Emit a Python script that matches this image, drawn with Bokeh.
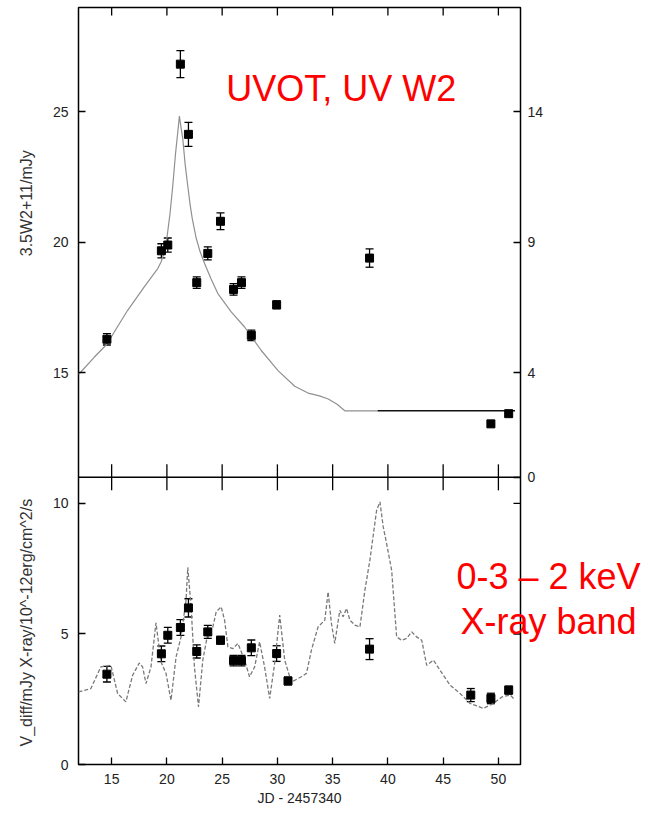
import math
from bokeh.plotting import figure
from bokeh.models import (ColumnDataSource, LinearAxis, FixedTicker, Whisker,
                          TeeHead, Span)
from bokeh.core.properties import value
from bokeh.embed import file_html
from bokeh.resources import INLINE

# ---------------- data ----------------
X_RANGE = (12, 52)
Y_RANGE = (0, 29)
X_TICKS = [15, 20, 25, 30, 35, 40, 45, 50]
LEFT_TICKS = [0, 5, 10, 15, 20, 25]
RIGHT_TICKS = [11, 15, 20, 25]
RIGHT_TICK_LABELS = ["0", "4", "9", "14"]
RIGHT_MINOR_PANEL_TICKS = [5, 10]   # unlabelled right ticks of the lower panel

# UVOT UV W2 (3.5*W2 + 11, mJy)
uv_jd = [14.57, 19.5, 20.08, 21.22, 21.95, 22.7, 23.7, 24.85, 26.03, 26.75,
         27.64, 29.93, 38.34, 49.32, 50.93]
uv_flux = [16.29, 19.68, 19.9, 26.83, 24.14, 18.46, 19.58, 20.81, 18.2, 18.46,
           16.44, 17.61, 19.4, 13.05, 13.44]
uv_err = [0.22, 0.27, 0.27, 0.52, 0.46, 0.22, 0.25, 0.32, 0.22, 0.22,
          0.2, 0.15, 0.35, 0.0, 0.1]

uv_model_jd = [12.0, 13.42, 14.57, 15.5, 16.45, 17.95, 19.17, 19.47, 19.75,
               20.0, 20.28, 20.53, 20.78, 20.98, 21.13, 21.28, 21.44, 21.65,
               21.89, 22.1, 22.3, 22.64, 23.0, 23.4, 24.0, 24.6, 25.8, 27.03,
               28.54, 30.06, 31.57, 32.78, 33.8, 34.6, 35.4, 36.1, 39.07]
uv_model_flux = [14.94, 15.6, 16.1, 16.75, 17.4, 18.3, 19.0, 19.25, 19.6,
                 20.17, 21.1, 22.16, 23.4, 24.2, 24.84, 24.4, 23.96, 23.0,
                 22.16, 21.45, 20.9, 20.18, 19.65, 19.2, 18.6, 18.05, 17.35,
                 16.76, 15.86, 15.09, 14.49, 14.23, 14.12, 14.0, 13.8, 13.55,
                 13.55]
uv_tail_jd = [39.07, 51.5]
uv_tail_flux = [13.55, 13.55]

# V_diff / X-ray (0.3-2 keV)
xr_jd = [14.57, 19.5, 20.08, 21.22, 21.95, 22.7, 23.7, 24.85, 26.03, 26.75,
         27.64, 29.93, 30.96, 38.34, 47.5, 49.32, 50.93]
xr_flux = [3.46, 4.24, 4.95, 5.25, 6.0, 4.33, 5.08, 4.76, 3.98, 3.98,
           4.47, 4.25, 3.2, 4.42, 2.66, 2.53, 2.85]
xr_err = [0.3, 0.3, 0.3, 0.3, 0.35, 0.25, 0.25, 0.15, 0.2, 0.2,
          0.3, 0.3, 0.15, 0.4, 0.25, 0.2, 0.15]

xr_model_jd = [12.0, 13.12, 14.02, 14.93, 15.54, 16.29, 16.59, 16.9, 17.5,
               17.8, 18.11, 18.56, 19.01, 19.47, 19.92, 20.37, 20.83, 21.28,
               21.73, 21.89, 22.19, 22.49, 22.86, 23.25, 23.7, 24.16, 24.46,
               24.91, 25.22, 25.52, 25.97, 26.43, 27.03, 27.48, 27.94, 28.39,
               28.84, 29.3, 29.75, 30.21, 30.66, 31.26, 32.17, 32.63, 33.08,
               33.68, 34.29, 34.59, 34.89, 35.19, 35.65, 35.95, 36.26, 36.56,
               37.01, 37.47, 37.92, 38.37, 38.98, 39.28, 39.58, 39.88, 40.34,
               40.79, 41.24, 41.7, 42.15, 42.6, 43.06, 43.51, 44.12, 44.72,
               45.63, 46.53, 47.44, 48.65, 49.56, 50.32, 51.07, 51.37]
xr_model_flux = [2.78, 2.91, 3.74, 3.8, 2.72, 2.4, 2.91, 3.42, 3.89,
                 3.74, 3.1, 3.74, 5.43, 3.93, 3.49, 2.46, 4.12, 4.89,
                 6.29, 7.55, 6.04, 3.74, 2.21, 4.0, 5.02, 5.27, 5.85,
                 6.04, 5.53, 4.51, 4.44, 4.64, 4.0, 3.36, 3.74, 4.7,
                 3.74, 2.53, 3.87, 5.72, 4.0, 3.16, 3.36, 3.49, 4.38,
                 5.27, 5.53, 6.61, 5.4, 4.64, 5.91, 5.66, 5.98, 5.53,
                 5.34, 5.27, 6.68, 7.83, 9.74, 10.06, 9.1, 8.47, 7.44,
                 4.89, 4.76, 4.83, 5.08, 4.89, 4.76, 3.8, 4.0, 3.61,
                 3.04, 2.72, 2.34, 2.15, 2.34, 2.59, 2.66, 2.53]

PANEL_BORDER = 11  # upper panel starts at 11 on the shared y scale

FONT = "Liberation Sans"
TXT = "#222222"

# ---------------- figure ----------------
FRAME_W, FRAME_H = 442, 757
p = figure(frame_width=FRAME_W, frame_height=FRAME_H,
           x_range=X_RANGE, y_range=Y_RANGE,
           output_backend="svg", toolbar_location=None,
           x_axis_location=None, y_axis_location=None,
           min_border_left=78, min_border_right=125,
           min_border_top=7, min_border_bottom=0)
p.outline_line_color = "black"
p.outline_line_width = 1.5
p.xgrid.grid_line_color = None
p.ygrid.grid_line_color = None
p.background_fill_color = "white"
p.border_fill_color = "white"

# tick lengths in data units
px_x = (X_RANGE[1] - X_RANGE[0]) / FRAME_W
px_y = (Y_RANGE[1] - Y_RANGE[0]) / FRAME_H


def style_axis(ax, tick_in, standoff):
    ax.major_tick_in = tick_in
    ax.major_tick_out = 0
    ax.minor_tick_in = 0
    ax.minor_tick_out = 0
    ax.major_tick_line_color = "black"
    ax.major_tick_line_width = 1.3
    ax.axis_line_color = None
    ax.major_label_standoff = standoff
    ax.major_label_text_font = FONT
    ax.major_label_text_font_size = "14px"
    ax.major_label_text_color = TXT


left = LinearAxis(ticker=FixedTicker(ticks=LEFT_TICKS))
style_axis(left, 7, 10)
p.add_layout(left, "left")

right = LinearAxis(ticker=FixedTicker(ticks=RIGHT_TICKS),
                   major_label_overrides=dict(zip(RIGHT_TICKS, RIGHT_TICK_LABELS)))
style_axis(right, 7, 7)
p.add_layout(right, "right")

below = LinearAxis(ticker=FixedTicker(ticks=X_TICKS), axis_label="JD - 2457340")
style_axis(below, 7, 9)
below.axis_label_standoff = 3
below.axis_label_text_font = FONT
below.axis_label_text_font_size = "14px"
below.axis_label_text_font_style = "normal"
below.axis_label_text_color = TXT
p.add_layout(below, "below")

TICK_STYLE = dict(line_color="black", line_width=1.3)
n = len(X_TICKS)
# top ticks (inward)
p.segment(x0=X_TICKS, y0=[Y_RANGE[1] - 8 * px_y] * n, x1=X_TICKS,
          y1=[Y_RANGE[1]] * n, **TICK_STYLE)
# shared border between the two panels, ticks on both sides
p.add_layout(Span(location=PANEL_BORDER, dimension="width",
                  line_color="black", line_width=1.5))
p.segment(x0=X_TICKS, y0=[PANEL_BORDER - 13 * px_y] * n,
          x1=X_TICKS, y1=[PANEL_BORDER + 13 * px_y] * n, **TICK_STYLE)
# right ticks of lower panel (unlabelled)
m = len(RIGHT_MINOR_PANEL_TICKS)
p.segment(x0=[X_RANGE[1] - 7 * px_x] * m, y0=RIGHT_MINOR_PANEL_TICKS,
          x1=[X_RANGE[1]] * m, y1=RIGHT_MINOR_PANEL_TICKS, **TICK_STYLE)

# ---- upper panel: UVOT ----
p.line(uv_model_jd, uv_model_flux, line_color="#909090", line_width=1.2)
p.line(uv_tail_jd, uv_tail_flux, line_color="#111111", line_width=1.4)

uv_e = [(x, y, e) for x, y, e in zip(uv_jd, uv_flux, uv_err) if e > 0]
uv_src = ColumnDataSource(dict(x=[a[0] for a in uv_e],
                               upper=[a[1] + a[2] for a in uv_e],
                               lower=[a[1] - a[2] for a in uv_e]))
p.add_layout(Whisker(base="x", upper="upper", lower="lower", source=uv_src,
                     dimension="height", line_color="black", line_width=1.3,
                     upper_head=TeeHead(size=8, line_color="black", line_width=1.3),
                     lower_head=TeeHead(size=8, line_color="black", line_width=1.3)))
p.scatter(uv_jd, uv_flux, marker="square", size=8, fill_color="black",
          line_color="black")

# ---- lower panel: X-ray ----
p.line(xr_model_jd, xr_model_flux, line_color="#7a7a7a", line_width=1.3,
       line_dash="4 2")
xr_src = ColumnDataSource(dict(x=xr_jd,
                               upper=[y + e for y, e in zip(xr_flux, xr_err)],
                               lower=[y - e for y, e in zip(xr_flux, xr_err)]))
p.add_layout(Whisker(base="x", upper="upper", lower="lower", source=xr_src,
                     dimension="height", line_color="black", line_width=1.3,
                     upper_head=TeeHead(size=8, line_color="black", line_width=1.3),
                     lower_head=TeeHead(size=8, line_color="black", line_width=1.3)))
p.scatter(xr_jd, xr_flux, marker="square", size=8, fill_color="black",
          line_color="black")

# ---- texts (overlay level so they may extend beyond the frame) ----
def add_text(x, y, s, color, size, align="left", baseline="alphabetic", angle=0.0):
    p.text(x=[x], y=[y], text=[s], text_color=color, text_font=value(FONT),
           text_font_size=value(size), text_align=align,
           text_baseline=baseline, angle=angle, level="overlay")


add_text(25.37, 25.89, "UVOT, UV W2", "#ff0000", "36px")
add_text(54.53, 7.21, "0-3 \u2013 2 keV", "#ff0000", "36px", align="center")
add_text(54.53, 5.49, "X-ray band", "#ff0000", "36px", align="center")
add_text(7.29, 21.5, "3.5W2+11/mJy", "#333333", "16px", align="center",
         baseline="middle", angle=math.pi / 2)
add_text(7.29, 5.52, "V_diff/mJy  X-ray/10^-12erg/cm^2/s", "#333333", "16px",
         align="center", baseline="middle", angle=math.pi / 2)

open("out.html", "w").write(file_html(p, INLINE))
